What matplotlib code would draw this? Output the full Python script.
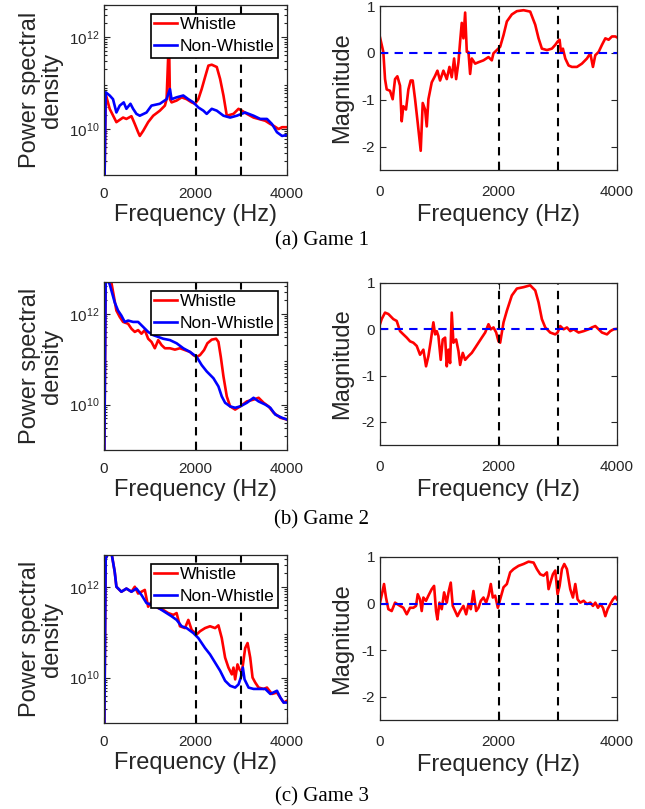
import numpy as np
import matplotlib
matplotlib.use("Agg")
import matplotlib.pyplot as plt
from matplotlib.ticker import LogLocator, NullFormatter

plt.rcParams['font.family'] = ['Liberation Sans', 'DejaVu Sans']
plt.rcParams['mathtext.fontset'] = 'custom'
plt.rcParams['mathtext.rm'] = 'Liberation Sans'

# ---- Game 1: power spectral density (log10 values) ----
g1_w_f = [0, 37, 124, 271, 417, 490, 600, 673, 746, 782, 856, 965, 1075, 1221, 1331, 1368,
          1404, 1426, 1441, 1477, 1587, 1697, 1806, 1916, 1989, 2062, 2135, 2209, 2282, 2355,
          2465, 2538, 2611, 2684, 2830, 2940, 3013, 3123, 3269, 3379, 3525, 3635, 3708, 3817,
          3891, 4000]
g1_w_psd = [8.0, 10.76, 10.44, 10.15, 10.25, 10.22, 10.28, 10.11, 9.93, 9.85, 9.96, 10.15, 10.29,
            10.40, 10.51, 10.65, 11.60, 11.64, 10.65, 10.58, 10.62, 10.69, 10.65, 10.58, 10.55,
            10.65, 10.87, 11.13, 11.38, 11.40, 11.35, 11.09, 10.73, 10.29, 10.33, 10.44, 10.40,
            10.33, 10.25, 10.22, 10.18, 10.11, 10.07, 10.00, 10.04, 10.04]
g1_n_f = [0, 37, 124, 197, 271, 344, 431, 490, 578, 636, 709, 782, 929, 1038, 1221, 1368, 1441,
          1477, 1587, 1733, 1843, 1953, 2062, 2172, 2245, 2355, 2465, 2611, 2757, 2903, 3086,
          3269, 3415, 3562, 3671, 3781, 3891, 4000]
g1_n_psd = [8.0, 10.80, 10.73, 10.65, 10.36, 10.51, 10.58, 10.44, 10.55, 10.44, 10.33, 10.29,
            10.36, 10.51, 10.55, 10.65, 10.87, 10.65, 10.69, 10.73, 10.65, 10.58, 10.47, 10.40,
            10.33, 10.44, 10.40, 10.29, 10.25, 10.29, 10.36, 10.29, 10.22, 10.22, 10.11, 9.93,
            9.85, 9.87]

# ---- Game 1: magnitude ----
g1_m_f = [0, 56, 85, 113, 169, 214, 254, 293, 338, 366, 394, 439, 479, 518, 552, 592, 637, 687,
          721, 761, 789, 817, 873, 930, 969, 1014, 1070, 1127, 1172, 1211, 1251, 1285, 1324,
          1352, 1380, 1408, 1437, 1465, 1493, 1521, 1549, 1606, 1662, 1746, 1831, 1887, 1915,
          1972, 2028, 2085, 2141, 2225, 2310, 2423, 2535, 2620, 2676, 2732, 2817, 2901, 2958,
          2997, 3031, 3054, 3087, 3127, 3183, 3239, 3324, 3408, 3493, 3549, 3594, 3634, 3690,
          3746, 3803, 3859, 3915, 3972, 4000]
g1_m_val = [0.33, 0.02, -0.56, -0.78, -0.81, -0.99, -0.56, -0.50, -0.70, -1.46, -1.14, -1.21,
            -0.78, -0.59, -0.59, -0.99, -1.50, -2.09, -1.07, -1.21, -1.57, -0.99, -0.63, -0.49,
            -0.38, -0.59, -0.38, -0.56, -0.30, -0.52, -0.12, -0.56, -0.20, 0.24, 0.64, 0.31,
            0.86, 0.02, 0.02, -0.45, -0.12, -0.23, -0.20, -0.16, -0.09, -0.16, -0.01, 0.06,
            0.13, 0.38, 0.67, 0.82, 0.89, 0.91, 0.88, 0.60, 0.31, 0.09, 0.06, 0.09, 0.17, 0.24,
            0.28, 0.02, 0.09, -0.12, -0.27, -0.30, -0.30, -0.23, -0.12, -0.01, -0.30, -0.05,
            0.02, 0.17, 0.31, 0.28, 0.35, 0.35, 0.33]

# ---- Game 2: power spectral density ----
g2_w_f = [0, 37, 161, 271, 344, 417, 527, 600, 673, 746, 819, 892, 965, 1038, 1111, 1185, 1258,
          1331, 1441, 1550, 1660, 1770, 1879, 1953, 2026, 2099, 2187, 2260, 2355, 2450, 2501,
          2553, 2611, 2684, 2757, 2867, 2977, 3123, 3269, 3379, 3489, 3598, 3708, 3854, 4000]
g2_w_psd = [8.0, 12.8, 12.69, 12.07, 11.93, 11.82, 11.78, 11.67, 11.60, 11.64, 11.56, 11.64,
            11.45, 11.38, 11.24, 11.42, 11.31, 11.24, 11.24, 11.21, 11.24, 11.20, 11.16, 11.09,
            11.05, 11.09, 11.20, 11.35, 11.43, 11.45, 11.38, 11.05, 10.62, 10.18, 9.96, 9.89,
            9.96, 10.07, 10.11, 10.15, 10.04, 9.96, 9.82, 9.71, 9.67]
g2_n_f = [0, 37, 124, 234, 307, 380, 453, 527, 636, 746, 856, 965, 1075, 1185, 1294, 1441, 1587,
          1733, 1879, 2026, 2135, 2245, 2392, 2501, 2574, 2647, 2757, 2867, 2977, 3123, 3269,
          3379, 3525, 3635, 3744, 3891, 4000]
g2_n_psd = [8.0, 12.8, 12.65, 12.25, 12.07, 11.96, 11.82, 11.85, 11.82, 11.82, 11.71, 11.60,
            11.53, 11.49, 11.45, 11.42, 11.35, 11.24, 11.16, 11.05, 10.87, 10.73, 10.58, 10.40,
            10.18, 10.04, 9.96, 9.93, 9.96, 10.04, 10.15, 10.07, 10.00, 9.93, 9.78, 9.71, 9.67]

# ---- Game 2: magnitude ----
g2_m_f = [0, 28, 85, 141, 225, 282, 338, 394, 451, 507, 563, 620, 676, 732, 777, 817, 856, 901,
          930, 958, 986, 1025, 1059, 1099, 1127, 1155, 1183, 1211, 1239, 1285, 1324, 1352, 1397,
          1437, 1493, 1549, 1606, 1662, 1718, 1775, 1831, 1870, 1915, 1961, 2000, 2028, 2085,
          2141, 2225, 2310, 2423, 2535, 2620, 2676, 2732, 2789, 2873, 2958, 2997, 3042, 3099,
          3155, 3211, 3268, 3352, 3437, 3521, 3577, 3634, 3690, 3746, 3831, 3887, 3944, 4000]
g2_m_val = [0.11, 0.22, 0.36, 0.33, 0.22, 0.18, -0.04, -0.11, -0.18, -0.26, -0.29, -0.36,
            -0.55, -0.44, -0.80, -0.58, -0.26, 0.15, -0.11, -0.04, -0.15, -0.66, -0.22, -0.18,
            -0.80, -0.44, -0.73, 0.36, -0.29, -0.22, -0.47, -0.77, -0.51, -0.66, -0.58, -0.51,
            -0.40, -0.29, -0.18, -0.07, 0.11, 0.00, 0.04, -0.07, -0.26, -0.29, 0.15, 0.40, 0.73,
            0.88, 0.91, 0.95, 0.84, 0.58, 0.22, 0.04, -0.07, -0.11, -0.07, 0.07, 0.00, 0.04,
            -0.04, 0.00, -0.07, -0.04, 0.00, 0.04, 0.07, 0.00, -0.07, -0.11, -0.04, 0.00, 0.01]

# ---- Game 3: power spectral density ----
g3_w_f = [0, 37, 88, 161, 234, 271, 380, 490, 600, 673, 746, 819, 892, 965, 1038, 1111, 1185,
          1294, 1404, 1514, 1587, 1660, 1770, 1843, 1916, 2026, 2099, 2209, 2318, 2428, 2501,
          2574, 2647, 2720, 2794, 2830, 2867, 2918, 2962, 3013, 3086, 3138, 3196, 3247, 3306,
          3379, 3489, 3562, 3671, 3781, 3854, 3927, 4000]
g3_w_psd = [8.0, 12.62, 12.73, 12.76, 12.33, 12.00, 11.89, 11.96, 11.89, 12.00, 11.85, 11.89,
            11.93, 11.56, 11.67, 11.64, 11.53, 11.49, 11.42, 11.38, 11.42, 11.13, 11.09, 11.27,
            11.05, 10.95, 11.02, 11.09, 11.13, 11.09, 11.15, 10.87, 10.44, 10.22, 10.07, 10.22,
            9.96, 10.29, 10.18, 10.11, 10.65, 10.76, 10.44, 10.00, 9.89, 9.78, 9.75, 9.78, 9.64,
            9.67, 9.56, 9.45, 9.49]
g3_n_f = [0, 37, 88, 161, 234, 271, 380, 490, 600, 709, 819, 929, 1038, 1148, 1258, 1368, 1477,
          1587, 1697, 1806, 1953, 2062, 2209, 2318, 2428, 2538, 2647, 2757, 2867, 2940, 2991,
          3035, 3072, 3160, 3269, 3415, 3525, 3635, 3781, 3854, 3927, 4000]
g3_n_psd = [8.0, 12.62, 12.73, 12.76, 12.33, 12.00, 11.89, 11.96, 11.89, 11.96, 11.82, 11.64,
            11.60, 11.56, 11.49, 11.42, 11.35, 11.27, 11.13, 11.09, 10.98, 10.87, 10.65, 10.51,
            10.33, 10.15, 9.93, 9.82, 9.78, 9.85, 10.00, 10.22, 9.96, 9.78, 9.75, 9.75, 9.75,
            9.64, 9.71, 9.56, 9.45, 9.45]

# ---- Game 3: magnitude ----
g3_m_f = [0, 39, 68, 101, 141, 197, 254, 338, 394, 451, 507, 563, 608, 637, 676, 704, 732, 777,
          817, 873, 913, 946, 969, 1003, 1042, 1082, 1127, 1161, 1194, 1228, 1268, 1307, 1352,
          1408, 1454, 1493, 1532, 1577, 1623, 1662, 1701, 1746, 1791, 1831, 1870, 1904, 1944,
          1989, 2028, 2085, 2141, 2197, 2254, 2338, 2423, 2507, 2592, 2648, 2704, 2761, 2817,
          2845, 2885, 2918, 2958, 2997, 3031, 3070, 3110, 3155, 3211, 3256, 3296, 3335, 3380,
          3437, 3493, 3549, 3594, 3634, 3679, 3718, 3763, 3803, 3842, 3887, 3932, 3972, 4000]
g3_m_val = [0.02, 0.24, 0.42, 0.13, -0.12, -0.16, 0.02, -0.05, -0.09, -0.23, -0.09, -0.09,
            -0.05, 0.20, 0.09, -0.16, 0.13, 0.06, 0.17, 0.31, 0.38, -0.16, -0.34, 0.02, -0.12,
            0.24, 0.02, 0.27, 0.45, -0.05, -0.16, -0.27, -0.16, -0.05, -0.23, -0.01, -0.12,
            0.27, -0.16, -0.09, 0.06, 0.13, 0.02, 0.17, 0.42, 0.13, 0.17, -0.09, 0.09, 0.35,
            0.42, 0.67, 0.74, 0.81, 0.85, 0.90, 0.88, 0.74, 0.63, 0.60, 0.67, 0.31, 0.49, 0.63,
            0.71, 0.20, 0.38, 0.74, 0.85, 0.74, 0.31, 0.13, 0.42, 0.09, 0.02, 0.06, -0.01, 0.02,
            -0.05, 0.02, -0.09, -0.01, -0.09, -0.27, -0.12, -0.01, 0.09, 0.15, 0.09]

games = [
    (g1_w_f, g1_w_psd, g1_n_f, g1_n_psd, g1_m_f, g1_m_val, "(a) Game 1"),
    (g2_w_f, g2_w_psd, g2_n_f, g2_n_psd, g2_m_f, g2_m_val, "(b) Game 2"),
    (g3_w_f, g3_w_psd, g3_n_f, g3_n_psd, g3_m_f, g3_m_val, "(c) Game 3"),
]

W, H = 645, 809
fig = plt.figure(figsize=(W / 100, H / 100), dpi=100)

# pixel boxes (left, top, right, bottom) for each row
left_boxes = [(104, 5, 287, 175), (104, 282, 287, 450), (104, 555, 287, 723)]
right_boxes = [(380, 6, 617, 170), (380, 283, 617, 445), (380, 557, 617, 720)]
caption_y = [241, 520, 797]

gray = (0.15, 0.15, 0.15)


def box_to_rect(b):
    l, t, r, bt = b
    return [l / W, 1 - bt / H, (r - l) / W, (bt - t) / H]


def style_axes(ax, xpad, lpad):
    ax.tick_params(direction='in', top=True, right=True, labelsize=11,
                   colors=gray, length=4, width=0.8, which='both')
    ax.tick_params(which='minor', length=2)
    ax.tick_params(axis='x', pad=xpad)
    for s in ax.spines.values():
        s.set_color(gray)
        s.set_linewidth(0.9)
    ax.set_xlim(0, 4000)
    ax.set_xticks([0, 2000, 4000])
    ax.set_xlabel("Frequency (Hz)", fontsize=17, color=gray, labelpad=lpad)


for i, (wf, wp, nf, npsd, mf, mv, cap) in enumerate(games):
    # left: PSD
    ax = fig.add_axes(box_to_rect(left_boxes[i]))
    ax.plot(wf, 10 ** np.array(wp), color='red', lw=1.9, label='Whistle')
    ax.plot(nf, 10 ** np.array(npsd), color='blue', lw=1.9, label='Non-Whistle')
    ax.set_yscale('log')
    ax.set_ylim(1e9, 5e12)
    ax.axvline(2000, color='black', ls='--', lw=1.5, dashes=(4, 3))
    ax.axvline(3000, color='black', ls='--', lw=1.5, dashes=(4, 3))
    ax.set_yticks([1e10, 1e12])
    ax.yaxis.set_minor_locator(LogLocator(base=10, subs=np.arange(2, 10)))
    ax.yaxis.set_minor_formatter(NullFormatter())
    style_axes(ax, 8.5, 2.5)
    ax.set_ylabel("Power spectral\ndensity", fontsize=17, color=gray, labelpad=4,
                  linespacing=1.0)
    leg = ax.legend(loc='upper right', fontsize=12.5, frameon=True, fancybox=False,
                    handlelength=1.3, handletextpad=0.2, borderpad=0.2,
                    labelspacing=0.38, borderaxespad=0.5)
    leg.get_frame().set_edgecolor('black')
    leg.get_frame().set_linewidth(1.2)
    leg.get_frame().set_alpha(1)

    # right: magnitude
    ax2 = fig.add_axes(box_to_rect(right_boxes[i]))
    ax2.plot(mf, mv, color='red', lw=1.9)
    ax2.axhline(0, color='blue', ls='--', lw=1.5, dashes=(4, 3))
    ax2.axvline(2000, color='black', ls='--', lw=1.5, dashes=(4, 3))
    ax2.axvline(3000, color='black', ls='--', lw=1.5, dashes=(4, 3))
    ax2.set_ylim(-2.5, 1)
    ax2.set_yticks([-2, -1, 0, 1])
    ax2.set_yticklabels(['-2', '-1', '0', '1'])
    style_axes(ax2, 10.5, 4)
    ax2.set_ylabel("Magnitude", fontsize=17, color=gray, labelpad=6)

    fig.text(322 / W, 1 - caption_y[i] / H, cap, ha='center', va='center',
             fontsize=15, family='Liberation Serif')

fig.savefig("out.png", dpi=100)
